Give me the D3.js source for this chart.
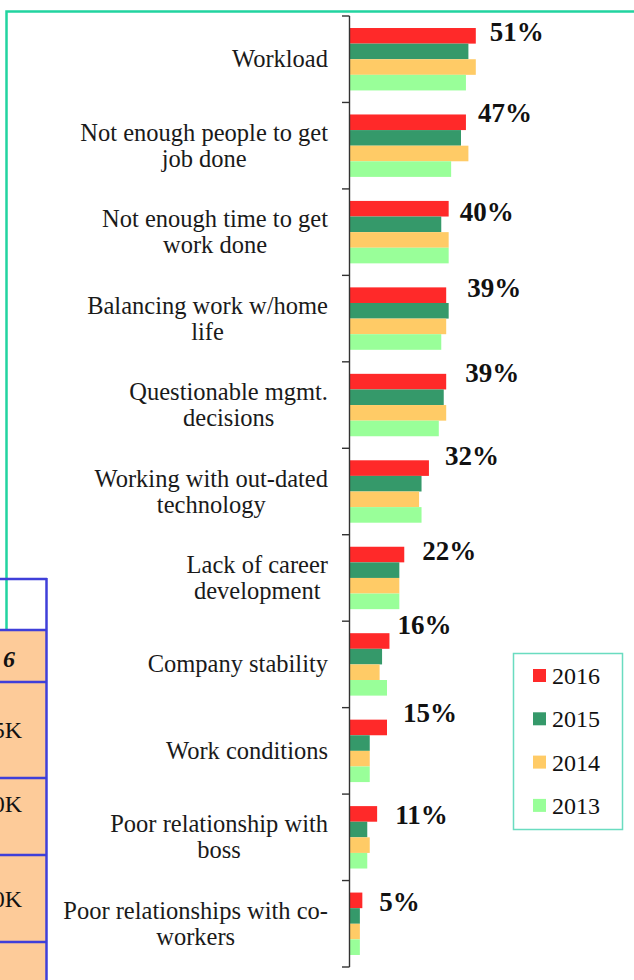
<!DOCTYPE html>
<html>
<head>
<meta charset="utf-8">
<script src="https://cdn.jsdelivr.net/npm/d3@7"></script>
<style>
  html, body { margin: 0; padding: 0; background: #fff; }
  svg { display: block; }
</style>
</head>
<body>
<svg id="chart" width="634" height="980"></svg>
<script>
// ---------- data ----------
const categories = [
  "Workload",
  "Not enough people to get\njob done",
  "Not enough time to get\nwork done",
  "Balancing work w/home\nlife",
  "Questionable mgmt.\ndecisions",
  "Working with out-dated\ntechnology",
  "Lack of career\ndevelopment",
  "Company stability",
  "Work conditions",
  "Poor relationship with\nboss",
  "Poor relationships with co-\nworkers"
];
const seriesNames = ["2016", "2015", "2014", "2013"];
const values2016 = [51, 47, 40, 39, 39, 32, 22, 16, 15, 11, 5];
const values2015 = [48, 45, 37, 40, 38, 29, 20, 13, 8, 7, 4];
const values2014 = [51, 48, 40, 39, 39, 28, 20, 12, 8, 8, 4];
const values2013 = [47, 41, 40, 37, 36, 29, 20, 15, 8, 7, 4];
const seriesColors = ["#ff2929", "#35996a", "#ffcb66", "#99ff99"];
// hand-placed value labels: nudges relative to the default spot
const labelNudge = [[0, 3], [-2, -2], [-3, 10], [7, 0], [5, -2], [2, -5], [4, 3], [-6, -9], [2, -8], [4, 8], [3, 8]];
// neighbouring table fragment (visible text only)
const tableTexts = ["", "6", "5K", "0K", "0K", ""];

// ---------- setup ----------
const svg = d3.select("#chart");
const serif = "'Liberation Serif', 'Times New Roman', serif";

// outer frame (teal)
svg.append("rect")
  .attr("x", 6.5).attr("y", 11.5).attr("width", 800).attr("height", 1000)
  .attr("fill", "none").attr("stroke", "#22d4a0").attr("stroke-width", 2.5);

const seriesValues = [values2016, values2015, values2014, values2013];
const data = categories.map((c, i) => ({
  cat: c,
  i: i,
  vals: seriesNames.map((s, k) => ({ s, k, v: seriesValues[k][i] }))
}));

const y = d3.scaleBand().domain(categories).range([16, 967])
  .paddingInner(0.278).paddingOuter(0.139);
const yIn = d3.scaleBand().domain(seriesNames).range([0, y.bandwidth()]);
const x = d3.scaleLinear().domain([0, 60]).range([350, 498]);
const color = d3.scaleOrdinal().domain(seriesNames).range(seriesColors);

// bars
const groups = svg.append("g").selectAll("g").data(data).join("g")
  .attr("transform", d => `translate(0,${y(d.cat)})`);
groups.selectAll("rect").data(d => d.vals).join("rect")
  .attr("x", x(0))
  .attr("y", d => yIn(d.s))
  .attr("width", d => x(d.v) - x(0))
  .attr("height", yIn.bandwidth())
  .attr("fill", d => color(d.s));

// axis line + boundary ticks
const step = y.step();
const boundaries = d3.range(categories.length + 1).map(i => y(categories[0]) - step * y.paddingOuter() + i * step);
const ax = svg.append("g").attr("stroke", "#333").attr("stroke-width", 1.4);
ax.append("line").attr("x1", 349.5).attr("x2", 349.5)
  .attr("y1", boundaries[0]).attr("y2", boundaries[boundaries.length - 1]);
ax.selectAll("line.tick").data(boundaries).join("line").attr("class", "tick")
  .attr("x1", 342).attr("x2", 349.5).attr("y1", d => d).attr("y2", d => d);

// category labels
const labelG = svg.append("g").attr("font-family", serif).attr("font-size", 24.5).attr("fill", "#1a1a1a");
data.forEach(d => {
  const lines = d.cat.split("\n");
  const t = labelG.append("text").attr("text-anchor", "middle");
  const cy = y(d.cat) + y.bandwidth() / 2;
  const lh = 26;
  lines.forEach((ln, j) => {
    t.append("tspan").attr("x", 0)
      .attr("y", cy + 8 + (j - (lines.length - 1) / 2) * lh)
      .text(ln);
  });
  let w = 0;
  t.selectAll("tspan").each(function () { w = Math.max(w, this.getComputedTextLength()); });
  t.selectAll("tspan").attr("x", 328 - w / 2);
});

// value labels (2016)
svg.append("g").selectAll("text").data(data).join("text")
  .attr("font-family", serif).attr("font-size", 27).attr("font-weight", "bold").attr("fill", "#111")
  .attr("x", d => x(values2016[d.i]) + 14 + labelNudge[d.i][0])
  .attr("y", d => y(d.cat) + yIn(seriesNames[0]) + 10 + labelNudge[d.i][1])
  .text(d => values2016[d.i] + "%");

// legend
const lg = svg.append("g");
lg.append("rect").attr("x", 513.5).attr("y", 653.5).attr("width", 109).attr("height", 176)
  .attr("fill", "#fff").attr("stroke", "#6adcc0").attr("stroke-width", 1.5);
const li = lg.selectAll("g").data(seriesNames).join("g")
  .attr("transform", (d, i) => `translate(533,${684 + i * 43.3})`);
li.append("rect").attr("x", 0).attr("y", -15).attr("width", 13).attr("height", 13)
  .attr("fill", d => color(d));
li.append("text").attr("x", 19).attr("y", 0)
  .attr("font-family", serif).attr("font-size", 24).attr("fill", "#111")
  .text(d => d);

// table fragment on the left
const rowEdges = [579, 630, 682, 778, 855, 942, 1000];
const textBaselines = [0, 667, 738, 812, 907, 0];
const tg = svg.append("g");
tableTexts.forEach((t, i) => {
  if (i > 0) {
    tg.append("rect").attr("x", -5).attr("y", rowEdges[i]).attr("width", 52)
      .attr("height", rowEdges[i + 1] - rowEdges[i]).attr("fill", "#fdcb99");
  }
});
tableTexts.forEach((t, i) => {
  tg.append("line").attr("x1", -5).attr("x2", 47).attr("y1", rowEdges[i]).attr("y2", rowEdges[i])
    .attr("stroke", "#3f3fd9").attr("stroke-width", 2.5);
  if (t) {
    tg.append("text").attr("x", i === 1 ? 15 : 22).attr("y", textBaselines[i])
      .attr("text-anchor", "end").attr("font-family", serif).attr("font-size", 24)
      .attr("font-weight", i === 1 ? "bold" : "normal").attr("font-style", i === 1 ? "italic" : "normal")
      .attr("fill", "#111").text(t);
  }
});
tg.append("line").attr("x1", 46.5).attr("x2", 46.5).attr("y1", 578).attr("y2", 980)
  .attr("stroke", "#3f3fd9").attr("stroke-width", 2.5);
</script>
</body>
</html>
